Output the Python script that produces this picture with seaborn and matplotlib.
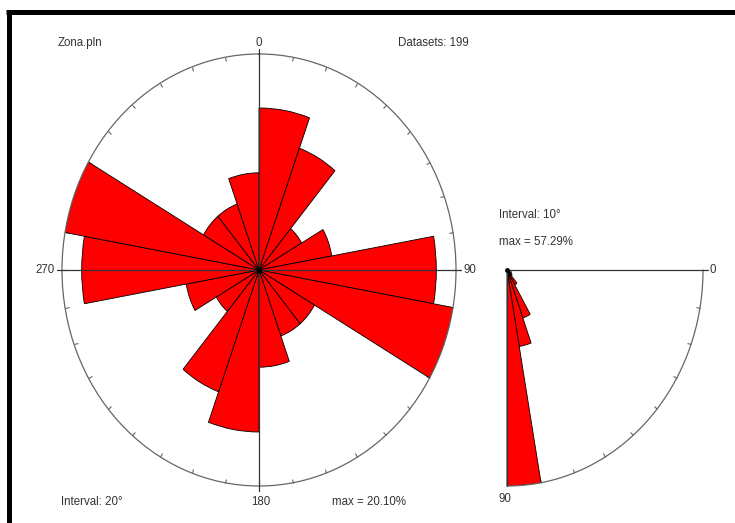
import numpy as np
import pandas as pd
import seaborn as sns
import matplotlib.pyplot as plt
from matplotlib.lines import Line2D

# strike classes (20 deg), number of planes per class - 199 planes
strike_start = [0, 20, 40, 60, 80, 100, 120, 140, 160,
                180, 200, 220, 240, 260, 280, 300, 320, 340]
strike_count = [30, 24, 10, 15, 36, 40, 13, 13, 18,
                30, 24, 10, 15, 36, 40, 13, 13, 18]
# dip classes (10 deg)
dip_start = [0, 10, 20, 30, 40, 50, 60, 70, 80]
dip_count = [0, 0, 1, 3, 4, 9, 27, 41, 114]
n_data = 199

sns.set_theme(style="white")
plt.rcParams['font.family'] = ['Liberation Sans', 'DejaVu Sans']

W, H = 735, 523
fig = plt.figure(figsize=(W / 100, H / 100), dpi=100)
fig.patch.set_facecolor('white')


def fx(px):
    return px / W


def fy(py):
    return 1 - py / H


def setup_polar(ax, ticks_deg):
    ax.set_aspect('auto')
    ax.grid(False)
    ax.set_yticks([])
    ax.set_xticks(np.deg2rad(ticks_deg))
    ax.set_xticklabels([])
    ax.set_xlabel('')
    ax.set_ylabel('')
    ax.tick_params(axis='x', which='major', bottom=True, top=True, direction='in',
                   length=3, width=0.8, color='#666666', pad=0)


# --- strike rose ---
rose = pd.DataFrame({'theta': np.deg2rad(np.array(strike_start) + 10),
                     'pct': np.array(strike_count) / n_data * 100})
rmax = rose['pct'].max()

ax = fig.add_axes([fx(62), fy(486), 394 / W, 432 / H], projection='polar')
ax.set_theta_zero_location('N')
ax.set_theta_direction(-1)
sns.barplot(data=rose, x='theta', y='pct', native_scale=True, width=1,
            color='#ff0000', saturation=1, edgecolor='black', linewidth=0.6,
            errorbar=None, ax=ax)
setup_polar(ax, np.arange(0, 360, 10))
ax.set_ylim(0, rmax)
ax.spines['polar'].set_color('#666666')
ax.spines['polar'].set_linewidth(0.9)
for d in [0, 90, 180, 270]:
    ax.plot([np.deg2rad(d)] * 2, [0, rmax * 1.025], color='#333333', lw=0.9,
            clip_on=False, zorder=4)
ax.plot([0], [0], 'o', color='black', ms=3, zorder=5)

# --- dip diagram ---
dip = pd.DataFrame({'theta': np.deg2rad(np.array(dip_start) + 5),
                    'pct': np.array(dip_count) / n_data * 100})
dmax = dip['pct'].max()

ax2 = fig.add_axes([fx(311), fy(486), 392 / W, 432 / H], projection='polar')
ax2.set_theta_zero_location('E')
ax2.set_theta_direction(-1)
sns.barplot(data=dip, x='theta', y='pct', native_scale=True, width=1,
            color='#ff0000', saturation=1, edgecolor='black', linewidth=0.6,
            errorbar=None, ax=ax2)
setup_polar(ax2, np.arange(10, 90, 10))
ax2.set_ylim(0, dmax)
ax2.patch.set_visible(False)
ax2.spines['polar'].set_visible(False)
arc = np.linspace(0, np.pi / 2, 120)
ax2.plot(arc, np.full_like(arc, dmax), color='#666666', lw=0.9, clip_on=False)
ax2.plot([0, 0], [0, dmax * 1.025], color='#333333', lw=0.9, clip_on=False, zorder=4)
ax2.plot([np.pi / 2] * 2, [0, dmax], color='#333333', lw=0.9, clip_on=False, zorder=4)
ax2.plot([0], [0], 'o', color='black', ms=2.5, zorder=5)

# --- labels ---
tc = '#333333'
fs = 8.3
fig.text(fx(58), fy(43), 'Zona.pln', fontsize=fs, color=tc, va='center')
fig.text(fx(259), fy(43), '0', fontsize=fs, color=tc, va='center', ha='center')
fig.text(fx(398), fy(43), f'Datasets: {n_data}', fontsize=fs, color=tc, va='center')
fig.text(fx(55), fy(270), '270', fontsize=fs, color=tc, va='center', ha='right')
fig.text(fx(463), fy(270), '90', fontsize=fs, color=tc, va='center')
fig.text(fx(61), fy(502), 'Interval: 20°', fontsize=fs, color=tc, va='center')
fig.text(fx(261), fy(502), '180', fontsize=fs, color=tc, va='center', ha='center')
fig.text(fx(332), fy(502), f'max = {rmax:.2f}%', fontsize=fs, color=tc, va='center')

fig.text(fx(499), fy(215), 'Interval: 10°', fontsize=fs, color=tc, va='center')
fig.text(fx(499), fy(242), f'max = {dmax:.2f}%', fontsize=fs, color=tc, va='center')
fig.text(fx(710), fy(270), '0', fontsize=fs, color=tc, va='center')
fig.text(fx(505), fy(499), '90', fontsize=fs, color=tc, va='center', ha='center')

# frame (top and left edge only)
fig.add_artist(Line2D([fx(6), 1], [fy(12), fy(12)], color='black', lw=3.6,
                      solid_capstyle='butt'))
fig.add_artist(Line2D([fx(8.5), fx(8.5)], [0, fy(10)], color='black', lw=3.6,
                      solid_capstyle='butt'))

fig.savefig('out.png', dpi=100)
